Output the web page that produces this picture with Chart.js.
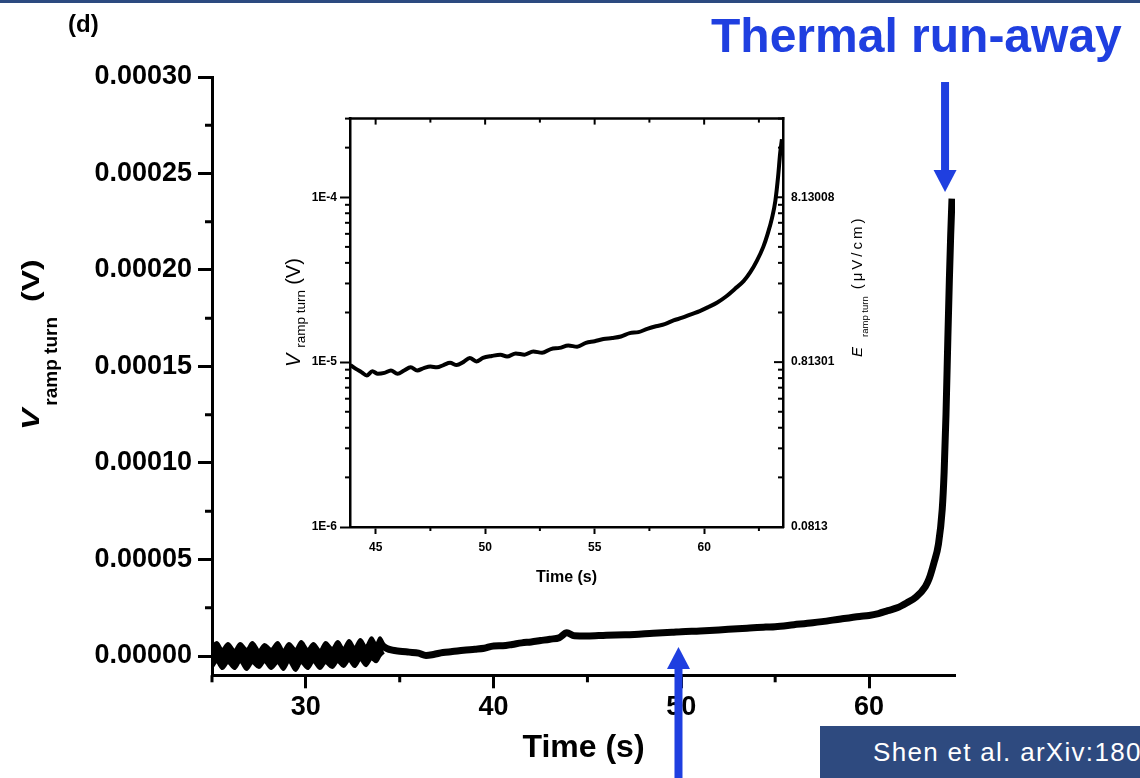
<!DOCTYPE html>
<html>
<head>
<meta charset="utf-8">
<script src="https://cdn.jsdelivr.net/npm/chart.js@4.4.0/dist/chart.umd.min.js"></script>
<style>
  html, body { margin: 0; padding: 0; background: #fff; }
  body { width: 1140px; height: 778px; position: relative; overflow: hidden;
         font-family: 'Liberation Sans', Arial, sans-serif; color: #000; }
  canvas { position: absolute; }
  #main { left: 0; top: 0; }
  #inset { left: 300px; top: 100px; }
  .topbar { position: absolute; left: 0; top: 0; width: 1140px; height: 3px; background: #2c4a80; }
  .panel { position: absolute; left: 68px; top: 12px; font: bold 24px/1 'Liberation Sans', Arial, sans-serif; }
  .runaway { position: absolute; left: 711px; top: 12px; font: bold 48px/1 'Liberation Sans', Arial, sans-serif;
             color: #1f3fe0; white-space: nowrap; }
  .vlabel { position: absolute; transform-origin: 0 0; transform: rotate(-90deg); white-space: nowrap; line-height: 1; }
  .vlabel .big { display: inline-block; transform-origin: 0 27px; transform: scaleY(0.75); }
  .cite { position: absolute; left: 820px; top: 726px; width: 320px; height: 52px; background: #2e4a7f;
          color: #fff; font: 26px/52px 'Liberation Sans', Arial, sans-serif; letter-spacing: 1.3px;
          padding-left: 53px; box-sizing: border-box; white-space: nowrap; overflow: hidden; }
</style>
</head>
<body>
<div class="topbar"></div>
<canvas id="main" width="1140" height="778"></canvas>
<canvas id="inset" width="580" height="500"></canvas>

<div class="panel">(d)</div>
<div class="runaway">Thermal run-away</div>

<div class="vlabel" style="left:12px; top:430px; font-size:32px; font-weight:bold;"><span class="big"><i>V</i></span><span style="font-size:19px; position:relative; top:18px; margin-left:3px;">ramp turn</span><span class="big" style="margin-left:15px;">(V)</span></div>

<div class="vlabel" style="left:283px; top:367px; font-size:20px;"><i>V</i><span style="font-size:13.5px; position:relative; top:5px; margin-left:6px;">ramp turn</span><span style="margin-left:5px;">(V)</span></div>

<div class="vlabel" style="left:849px; top:357px; font-size:15px;"><i>E</i><span style="font-size:9.5px; position:relative; top:6px; margin-left:10px;">ramp turn</span><span style="margin-left:7px; letter-spacing:3px;">(μV/cm)</span></div>

<div class="cite">Shen et al. arXiv:180</div>

<script>
// noisy start of the trace (25-34 s): upper and lower edge of the band, microvolts
const bandTime = [25.0, 25.25, 25.55, 25.85, 26.2, 26.5, 26.85, 27.15, 27.5, 27.8, 28.15, 28.5, 28.8,
  29.1, 29.45, 29.75, 30.1, 30.4, 30.75, 31.05, 31.4, 31.7, 32.0, 32.3, 32.6, 32.9, 33.2, 33.5, 33.75,
  33.95, 34.15];
const bandTop = [5, 7, 3.5, 6.5, 3, 6.5, 3.5, 7, 3, 6, 3.5, 7, 3,
  6.5, 3.5, 7.5, 3.5, 6.5, 3, 7, 4, 7.5, 4, 8, 4.5, 8.5, 5, 9.5, 6,
  9.5, 6];
const bandBottom = [-6, -3, -6.5, -3.5, -6.5, -3, -7, -3.5, -6, -3, -6.5, -3.5, -7,
  -3, -7.5, -3.5, -6.5, -3, -6.5, -3.5, -6, -3, -5.5, -2.5, -5.5, -2, -5, -1.5, -3,
  0, 2];

// rest of the main trace, microvolts
const mainTime = [34.0, 34.3, 34.6, 35.0, 35.5, 36.0, 36.4, 36.8, 37.3, 37.8, 38.4, 39.0, 39.5, 40.0,
  40.5, 41.0, 41.5, 42.0, 42.5, 43.0, 43.5, 43.9, 44.3, 45.0, 46.0, 47.0, 47.5, 48.5, 49.5, 50.0, 51.0,
  52.0, 52.5, 53.5, 54.5, 55.0, 56.0, 57.0, 57.5, 58.5, 59.5, 60.0, 60.5, 61.0, 61.5, 62.0, 62.5, 63.0,
  63.2, 63.45, 63.7, 63.9, 64.0, 64.1, 64.2, 64.28, 64.35, 64.42];
const mainVolt = [6, 4, 3, 2.5, 2, 1.5, 0.3, 0.8, 1.8, 2.3, 3, 3.5, 4, 5.2,
  5.3, 6, 6.8, 7.3, 8, 8.7, 9.5, 12, 10.5, 10.4, 10.8, 11, 11.2, 11.8, 12.3, 12.6, 13,
  13.5, 13.8, 14.4, 15, 15.2, 16.2, 17.2, 17.8, 19.2, 20.5, 21, 22, 23.5, 25, 27.5, 30.5, 36,
  40, 48, 58, 76, 95, 125, 165, 195, 218, 237];

const mainXTicks = [30, 40, 50, 60];
const mainXMinor = [25, 35, 45, 55];
const mainYTicks = [0, 0.00005, 0.0001, 0.00015, 0.0002, 0.00025, 0.0003];
const mainYLabels = ['0.00000', '0.00005', '0.00010', '0.00015', '0.00020', '0.00025', '0.00030'];
const mainYMinor = [0.000025, 0.000075, 0.000125, 0.000175, 0.000225, 0.000275];

// arrows: time, tip value, tail value
const arrowTimes = [49.85, 64.05];
const arrowTips = [0.0000047, 0.0002404];
const arrowTails = [-0.00007, 0.0002974];

// inset: log scale, same quantity (microvolts)
const insetTime = [43.85, 44.1, 44.35, 44.6, 44.85, 45.1, 45.4, 45.7, 46.0, 46.3, 46.6, 46.9, 47.2, 47.5,
  47.8, 48.1, 48.4, 48.7, 49.0, 49.3, 49.6, 49.9, 50.3, 50.7, 51.0, 51.4, 51.8, 52.2, 52.6, 53.0, 53.4,
  53.8, 54.2, 54.6, 55.0, 55.4, 55.8, 56.2, 56.6, 57.0, 57.4, 57.8, 58.2, 58.6, 59.0, 59.4, 59.8, 60.2,
  60.6, 61.0, 61.4, 61.8, 62.1, 62.4, 62.7, 62.9, 63.1, 63.25, 63.38, 63.47, 63.55];
const insetVolt = [9.6, 9.1, 8.7, 8.3, 8.8, 8.5, 8.6, 8.9, 8.5, 8.9, 9.3, 8.9, 9.2, 9.4,
  9.3, 9.6, 9.9, 9.6, 10.0, 10.6, 10.1, 10.6, 10.9, 11.1, 10.8, 11.3, 11.1, 11.6, 11.4, 12.0, 12.2,
  12.6, 12.4, 13.1, 13.4, 13.8, 14.0, 14.3, 15.0, 15.2, 15.9, 16.5, 17.0, 17.9, 18.6, 19.5, 20.4, 21.6,
  23.0, 25.0, 27.8, 31, 35, 41, 50, 60, 75, 95, 135, 185, 225];

const insetXTicks = [45, 50, 55, 60];
const insetXMinor = [47.5, 52.5, 57.5, 62.5];
const insetYTicks = [1e-6, 1e-5, 1e-4];
const insetYLabels = ['1E-6', '1E-5', '1E-4'];
const insetYMinor = [2e-6, 3e-6, 4e-6, 5e-6, 6e-6, 7e-6, 8e-6, 9e-6,
  2e-5, 3e-5, 4e-5, 5e-5, 6e-5, 7e-5, 8e-5, 9e-5, 2e-4, 3e-4];
const fieldPerVolt = 81300.8;   // E (uV/cm) per V
const insetETicks = [0.0813008, 0.813008, 8.13008];
const insetELabels = ['0.0813', '0.81301', '8.13008'];

const FONT = "'Liberation Sans', Arial, Helvetica, sans-serif";
Chart.defaults.font.family = FONT;
Chart.defaults.color = '#000';

const extraTicks = {
  id: 'extraTicks',
  afterDraw(chart, args, opts) {
    const ctx = chart.ctx, area = chart.chartArea;
    ctx.save();
    ctx.strokeStyle = '#000';
    if (opts.box) {
      ctx.lineWidth = opts.box;
      ctx.beginPath();
      ctx.moveTo(area.left - opts.box / 2, area.top);
      ctx.lineTo(area.right + opts.box / 2, area.top);
      ctx.stroke();
    }
    for (const m of opts.marks || []) {
      const sc = chart.scales[m.scale];
      ctx.lineWidth = m.width;
      for (const v of m.values) {
        const p = sc.getPixelForValue(v);
        ctx.beginPath();
        if (m.edge === 'bottom') { ctx.moveTo(p, area.bottom); ctx.lineTo(p, area.bottom + m.len); }
        else if (m.edge === 'top') { ctx.moveTo(p, area.top); ctx.lineTo(p, area.top - m.len); }
        else if (m.edge === 'left') { ctx.moveTo(area.left, p); ctx.lineTo(area.left - m.len, p); }
        else { ctx.moveTo(area.right, p); ctx.lineTo(area.right + m.len, p); }
        ctx.stroke();
      }
    }
    ctx.restore();
  }
};

const arrows = {
  id: 'arrows',
  afterDraw(chart, args, opts) {
    const ctx = chart.ctx, xs = chart.scales.x, ys = chart.scales.y;
    ctx.save();
    ctx.fillStyle = opts.color;
    arrowTimes.forEach((t, i) => {
      const px = xs.getPixelForValue(t);
      const tip = ys.getPixelForValue(arrowTips[i]);
      const tail = ys.getPixelForValue(arrowTails[i]);
      const dir = tail > tip ? 1 : -1;
      const base = tip + dir * opts.headLen;
      ctx.fillRect(px - opts.shaft / 2, Math.min(base, tail), opts.shaft, Math.abs(tail - base));
      ctx.beginPath();
      ctx.moveTo(px, tip);
      ctx.lineTo(px - opts.headW / 2, base);
      ctx.lineTo(px + opts.headW / 2, base);
      ctx.closePath();
      ctx.fill();
    });
    ctx.restore();
  }
};

const toPoints = (times, vals) => times.map((t, i) => ({ x: t, y: vals[i] * 1e-6 }));

new Chart(document.getElementById('main'), {
  type: 'line',
  data: {
    datasets: [
      { data: toPoints(bandTime, bandTop), borderColor: '#000', borderWidth: 3, pointRadius: 0,
        cubicInterpolationMode: 'monotone', fill: false },
      { data: toPoints(bandTime, bandBottom), borderColor: '#000', borderWidth: 3, pointRadius: 0,
        cubicInterpolationMode: 'monotone', fill: '-1', backgroundColor: '#000' },
      { data: toPoints(mainTime, mainVolt), borderColor: '#000', borderWidth: 7, pointRadius: 0,
        cubicInterpolationMode: 'monotone', fill: false }
    ]
  },
  options: {
    responsive: false,
    animation: false,
    layout: { padding: { top: 77, right: 185, left: 0, bottom: 0 } },
    plugins: {
      legend: { display: false },
      tooltip: { enabled: false },
      extraTicks: {
        marks: [
          { scale: 'y', edge: 'left', values: mainYMinor, len: 7, width: 3 },
          { scale: 'x', edge: 'bottom', values: mainXMinor, len: 7, width: 3 }
        ]
      },
      arrows: { color: '#1f3fe0', shaft: 8, headW: 23, headLen: 22 }
    },
    scales: {
      x: {
        type: 'linear', min: 25, max: 64.58,
        afterBuildTicks: s => { s.ticks = mainXTicks.map(v => ({ value: v })); },
        afterFit: s => { s.height = 102.7; },
        grid: { drawOnChartArea: false, tickLength: 13, tickWidth: 3, tickColor: '#000' },
        border: { width: 3, color: '#000' },
        ticks: { font: { size: 27, weight: 'bold' }, padding: 3, maxRotation: 0, autoSkip: false },
        title: { display: true, text: 'Time (s)', font: { size: 32, weight: 'bold' }, padding: { top: 0, bottom: 11 } }
      },
      y: {
        type: 'linear', min: -0.00001, max: 0.0003,
        afterBuildTicks: s => { s.ticks = mainYTicks.map(v => ({ value: v })); },
        afterFit: s => { s.width = 212; },
        grid: { drawOnChartArea: false, tickLength: 14, tickWidth: 3, tickColor: '#000' },
        border: { width: 3, color: '#000' },
        ticks: { font: { size: 27, weight: 'bold' }, padding: 6, autoSkip: false,
                 callback: (v, i) => mainYLabels[i] }
      }
    }
  },
  plugins: [extraTicks, arrows]
});

const insetTickFont = { size: 12, weight: 'bold' };
new Chart(document.getElementById('inset'), {
  type: 'line',
  data: {
    datasets: [{
      data: toPoints(insetTime, insetVolt),
      borderColor: '#000',
      borderWidth: 4,
      pointRadius: 0,
      cubicInterpolationMode: 'monotone'
    }]
  },
  options: {
    responsive: false,
    animation: false,
    layout: { padding: { top: 18.6, right: 0, left: 0, bottom: 0 } },
    plugins: {
      legend: { display: false },
      tooltip: { enabled: false },
      extraTicks: {
        box: 2.5,
        marks: [
          { scale: 'y', edge: 'left', values: insetYMinor, len: 5, width: 2 },
          { scale: 'x', edge: 'bottom', values: insetXMinor, len: 4, width: 2 },
          { scale: 'x', edge: 'top', values: insetXTicks, len: -6, width: 2 },
          { scale: 'x', edge: 'top', values: insetXMinor, len: -4, width: 2 },
          { scale: 'y', edge: 'right', values: insetYTicks, len: -9, width: 2 },
          { scale: 'y', edge: 'right', values: insetYMinor, len: -5, width: 2 }
        ]
      }
    },
    scales: {
      x: {
        type: 'linear', min: 43.83, max: 63.6,
        afterBuildTicks: s => { s.ticks = insetXTicks.map(v => ({ value: v })); },
        afterFit: s => { s.height = 73; },
        grid: { drawOnChartArea: false, tickLength: 7, tickWidth: 2, tickColor: '#000' },
        border: { width: 2.5, color: '#000' },
        ticks: { font: insetTickFont, padding: 6, maxRotation: 0, autoSkip: false },
        title: { display: true, text: 'Time (s)', font: { size: 16, weight: 'bold' }, padding: { top: 0, bottom: 13 } }
      },
      y: {
        type: 'logarithmic', min: 1e-6, max: 3e-4,
        afterBuildTicks: s => { s.ticks = insetYTicks.map(v => ({ value: v })); },
        afterFit: s => { s.width = 50; },
        grid: { drawOnChartArea: false, tickLength: 10, tickWidth: 2, tickColor: '#000' },
        border: { width: 2.5, color: '#000' },
        ticks: { font: insetTickFont, padding: 3, autoSkip: false, callback: (v, i) => insetYLabels[i] }
      },
      yE: {
        type: 'logarithmic', position: 'right',
        min: 1e-6 * fieldPerVolt, max: 3e-4 * fieldPerVolt,
        afterBuildTicks: s => { s.ticks = insetETicks.map(v => ({ value: v })); },
        afterFit: s => { s.width = 97; },
        grid: { drawOnChartArea: false, drawTicks: false },
        border: { width: 2.5, color: '#000' },
        ticks: { font: insetTickFont, padding: 8, autoSkip: false, callback: (v, i) => insetELabels[i] }
      }
    }
  },
  plugins: [extraTicks]
});
</script>
</body>
</html>
